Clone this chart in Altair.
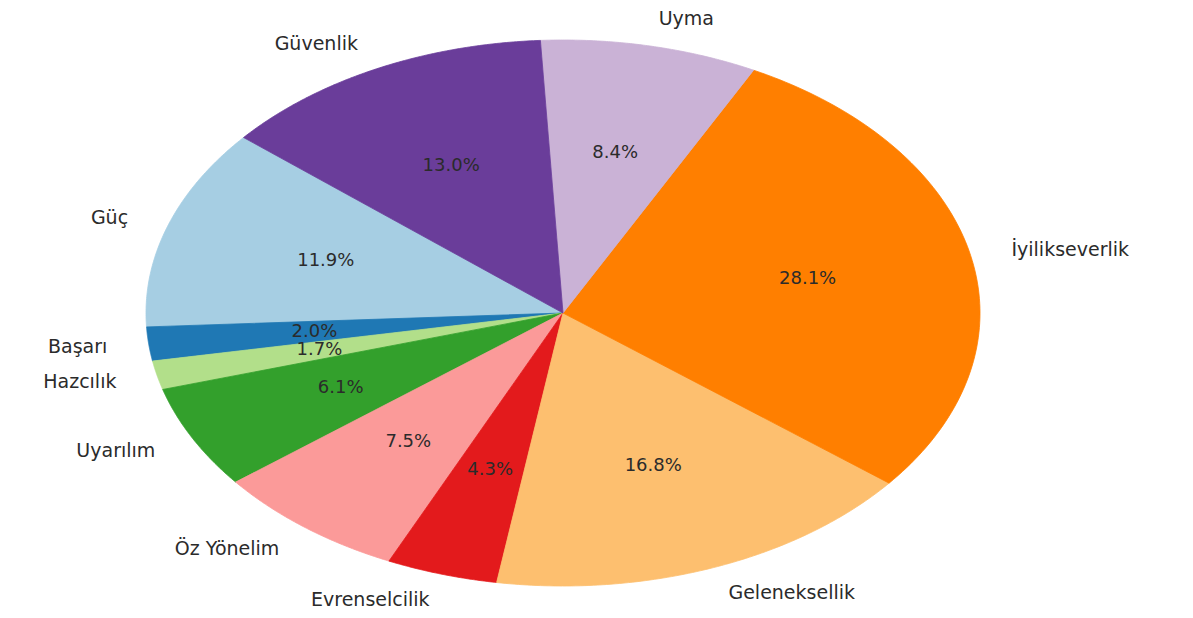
import altair as alt
import pandas as pd

categories = ["Güç", "Başarı", "Hazcılık", "Uyarılım", "Öz Yönelim",
              "Evrenselcilik", "Geleneksellik", "İyilikseverlik", "Uyma", "Güvenlik"]
values = [11.9, 2.0, 1.7, 6.1, 7.5, 4.3, 16.8, 28.1, 8.4, 13.0]
colors = ["#a6cee3", "#1f78b4", "#b2df8a", "#33a02c", "#fb9a99",
          "#e31a1c", "#fdbf6f", "#ff7f00", "#cab2d6", "#6a3d9a"]
start_angle_deg = 140

df = pd.DataFrame({"cat": categories, "val": values, "idx": list(range(len(categories)))})

color_scale = alt.Scale(domain=categories, range=colors)
xs = alt.Scale(domain=[-1, 1], nice=False, zero=False)
ys = alt.Scale(domain=[-1, 1], nice=False, zero=False)

base = (
    alt.Chart(df)
    .transform_joinaggregate(total="sum(val)")
    .transform_window(cum="sum(val)", sort=[alt.SortField("idx")], frame=[None, 0])
    .transform_calculate(start="datum.cum - datum.val")
)

N = 100
wedges = (
    base.transform_calculate(steps=f"sequence(-1, {N + 2})")
    .transform_flatten(["steps"], as_=["step"])
    .transform_calculate(
        ang=f"PI*{start_angle_deg}/180 + 2*PI*(datum.start + datum.val*clamp(datum.step,0,{N})/{N})/datum.total"
    )
    .transform_calculate(
        px=f"(datum.step < 0 || datum.step > {N}) ? 0 : cos(datum.ang)",
        py=f"(datum.step < 0 || datum.step > {N}) ? 0 : sin(datum.ang)",
    )
    .mark_line(strokeWidth=0.8, interpolate="linear")
    .encode(
        x=alt.X("px:Q", scale=xs, axis=None),
        y=alt.Y("py:Q", scale=ys, axis=None),
        color=alt.Color("cat:N", scale=color_scale, legend=None),
        fill=alt.Fill("cat:N", scale=color_scale, legend=None),
        detail="cat:N",
        order=alt.Order("step:Q"),
    )
)

mids = base.transform_calculate(
    angm=f"PI*{start_angle_deg}/180 + 2*PI*(datum.start + datum.val/2)/datum.total"
).transform_calculate(
    lx="1.1*cos(datum.angm)",
    ly="1.1*sin(datum.angm)",
    tx="0.6*cos(datum.angm)",
    ty="0.6*sin(datum.angm)",
    pct="format(datum.val, '.1f') + '%'",
)

text_color = "#2b2b2b"
label_font = "DejaVu Sans"

labels_right = mids.transform_filter("datum.lx >= 0").mark_text(
    align="left", baseline="middle", fontSize=19, font=label_font, color=text_color
).encode(
    x=alt.X("lx:Q", scale=xs, axis=None),
    y=alt.Y("ly:Q", scale=ys, axis=None),
    text="cat:N",
)
labels_left = mids.transform_filter("datum.lx < 0").mark_text(
    align="right", baseline="middle", fontSize=19, font=label_font, color=text_color
).encode(
    x=alt.X("lx:Q", scale=xs, axis=None),
    y=alt.Y("ly:Q", scale=ys, axis=None),
    text="cat:N",
)
pcts = mids.mark_text(
    align="center", baseline="middle", fontSize=18, font=label_font, color=text_color
).encode(
    x=alt.X("tx:Q", scale=xs, axis=None),
    y=alt.Y("ty:Q", scale=ys, axis=None),
    text="pct:N",
)

chart = (
    alt.layer(wedges, labels_right, labels_left, pcts)
    .properties(
        width=834,
        height=546,
        autosize=alt.AutoSizeParams(type="none"),
        padding={"left": 138, "top": 32, "right": 205, "bottom": 24},
    )
    .configure_view(stroke=None)
)

chart.save("out.html", embed_options={"renderer": "svg", "actions": False})
